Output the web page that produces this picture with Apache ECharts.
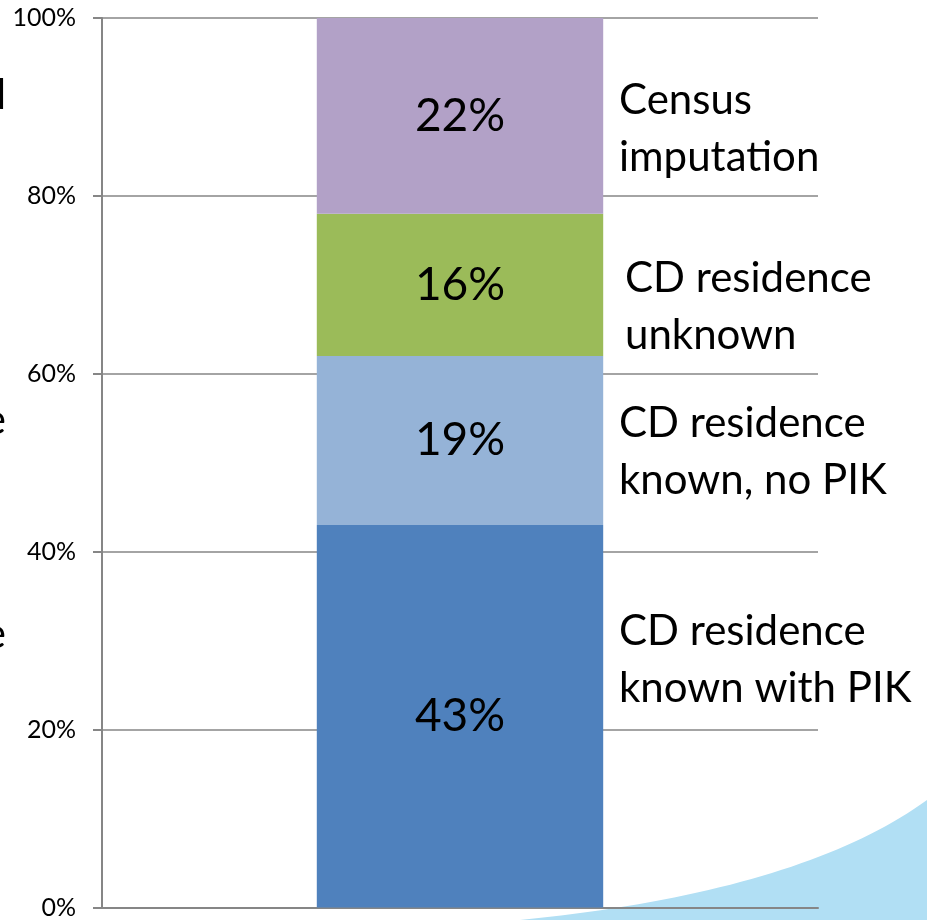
<!DOCTYPE html>
<html>
<head>
<meta charset="utf-8">
<script src="https://cdn.jsdelivr.net/npm/echarts@6/dist/echarts.min.js"></script>
<style>
html,body{margin:0;padding:0;background:#fff;}
#chart{width:927px;height:920px;}
</style>
</head>
<body>
<div id="chart"></div>
<script>
const categories = ['Total'];
const seriesNames = ['CD residence known with PIK', 'CD residence known, no PIK', 'CD residence unknown', 'Census imputation'];
const seriesValues = [[43], [19], [16], [22]];
const sideLabels = [['CD residence', 'known with PIK'], ['CD residence', 'known, no PIK'], ['CD residence', 'unknown'], ['Census', 'imputation']];
const yTicks = [0, 20, 40, 60, 80, 100];
const colors = ['#4F81BD', '#95B3D7', '#9BBB59', '#B2A1C7'];

const FONT = 'Lato';
const chart = echarts.init(document.getElementById('chart'));

const series = seriesNames.map((name, i) => ({
  name: name,
  type: 'bar',
  stack: 'total',
  data: seriesValues[i],
  barWidth: '40%',
  itemStyle: { color: colors[i] },
  label: {
    show: true,
    position: 'inside',
    formatter: p => p.value + '%',
    color: '#000',
    fontFamily: FONT,
    fontSize: 46
  },
  z: 2
}));

chart.setOption({
  animation: false,
  backgroundColor: '#fff',
  grid: { left: 102, right: 109, top: 18, bottom: 11, containLabel: false },
  xAxis: {
    type: 'category',
    data: categories,
    axisLine: { show: true, lineStyle: { color: '#868686', width: 2 } },
    axisTick: { show: false },
    axisLabel: { show: false }
  },
  yAxis: {
    type: 'value',
    min: 0, max: 100, interval: 20,
    axisLine: { show: true, lineStyle: { color: '#868686', width: 2 } },
    axisTick: { show: true, length: 9, lineStyle: { color: '#868686', width: 2 } },
    axisLabel: {
      formatter: v => yTicks.includes(v) ? v + '%' : '',
      fontFamily: FONT, fontSize: 25, color: '#000', margin: 26
    },
    splitLine: { show: true, lineStyle: { color: '#868686', width: 1.5 } }
  },
  series: series
});

// Side annotations placed to the right of the bar
const sideTops = [603, 395, 250, 72];
const sideX = [619, 619, 625, 619];
const graphics = [];
// decorative swoosh (quadratic curve approximated by polygon)
const swoosh = [];
const P0 = [520, 920], P1 = [800, 892], P2 = [927, 800];
for (let k = 0; k <= 40; k++) {
  const t = k / 40, u = 1 - t;
  swoosh.push([u*u*P0[0] + 2*u*t*P1[0] + t*t*P2[0], u*u*P0[1] + 2*u*t*P1[1] + t*t*P2[1]]);
}
swoosh.push([927, 920]);
graphics.push({
  type: 'polygon', z: -1, silent: true,
  shape: { points: swoosh },
  style: { fill: '#B1DFF4' }
});
sideLabels.forEach((lines, i) => {
  graphics.push({
    type: 'text', x: sideX[i], y: sideTops[i], silent: true,
    style: { text: lines.join('\n'), font: '42px ' + FONT, fill: '#000', lineHeight: 57, verticalAlign: 'top' }
  });
});
// clipped fragments at left edge
[['d', 95], ['e', 420], ['e', 634]].forEach(([t, y]) => {
  graphics.push({ type: 'text', x: 6, y: y, silent: true,
    style: { text: t, font: '42px ' + FONT, fill: '#000', align: 'right', verticalAlign: 'middle' } });
});
chart.setOption({ graphic: graphics });
</script>
</body>
</html>
